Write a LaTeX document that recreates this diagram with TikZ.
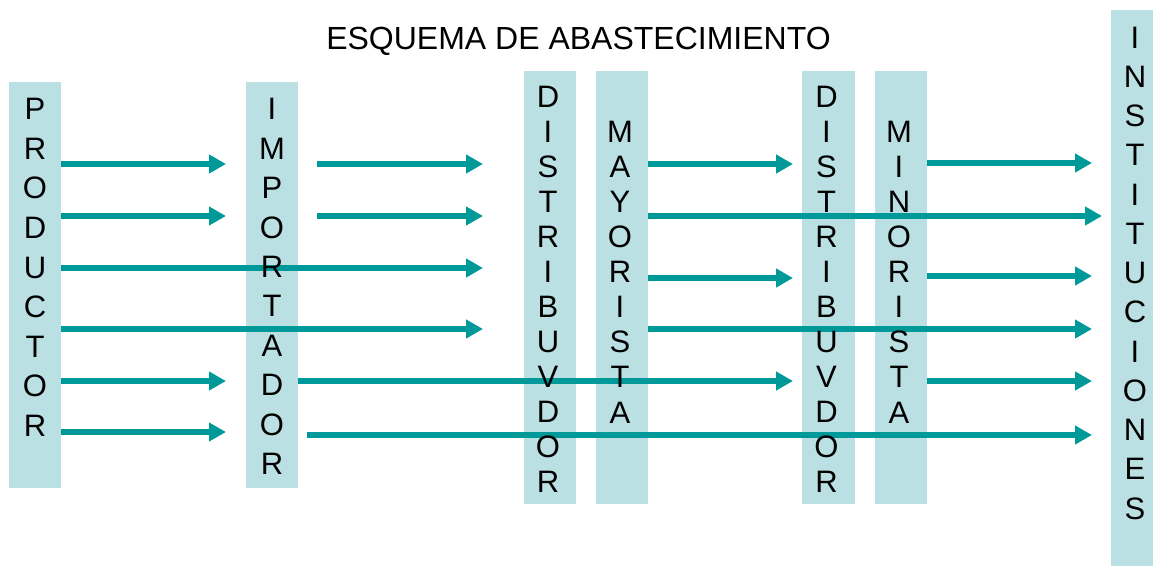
\documentclass[tikz,border=0pt]{standalone}
\usepackage{fontspec}
\setmainfont{Liberation Sans}
\usetikzlibrary{arrows.meta, positioning}

\definecolor{barfill}{RGB}{187,224,227}
\definecolor{flowteal}{RGB}{0,153,153}

\begin{document}
\begin{tikzpicture}[
	x=1pt, y=-1pt,
	bar/.style={
		rectangle,
		fill=barfill,
		inner sep=0pt,
		outer sep=0pt,
		minimum width=52pt,
		minimum height=#1
	},
	letters/.style={
		align=center,
		inner sep=0pt,
		font=\fontsize{31pt}{#1}\selectfont
	},
	flow/.style={-{Triangle[length=17pt, width=18pt]}, line width=6.7pt, flowteal}
]
	\useasboundingbox (0,0) rectangle (1156,566);

	\node[font=\fontsize{32pt}{38pt}\selectfont, anchor=base] (title) at (578.5,49) {ESQUEMA DE ABASTECIMIENTO};

	% columns
	\node[bar=406pt] (prod) at (35,285) {};
	\node[bar=406pt, right=185pt of prod] (imp) {};
	\node[bar=433pt, right=226pt of imp, yshift=-2.5pt] (dist1) {};
	\node[bar=433pt, right=20pt of dist1] (mayor) {};
	\node[bar=433pt, minimum width=53pt, right=154pt of mayor] (dist2) {};
	\node[bar=433pt, right=20pt of dist2] (minor) {};
	\node[bar=556pt, minimum width=42pt, right=184pt of minor] (inst) {};

	% productor
	\draw[flow, shorten >=20pt] (prod.east |- 0,164) -- (imp.west |- 0,164);
	\draw[flow, shorten >=20pt] (prod.east |- 0,216) -- (imp.west |- 0,216);
	\draw[flow, shorten >=41pt] (prod.east |- 0,268) -- (dist1.west |- 0,268);
	\draw[flow, shorten >=41pt] (prod.east |- 0,329) -- (dist1.west |- 0,329);
	\draw[flow, shorten >=20pt] (prod.east |- 0,381) -- (imp.west |- 0,381);
	\draw[flow, shorten >=20pt] (prod.east |- 0,432) -- (imp.west |- 0,432);

	% importador
	\draw[flow, shorten <=19pt, shorten >=41pt] (imp.east |- 0,164) -- (dist1.west |- 0,164);
	\draw[flow, shorten <=19pt, shorten >=41pt] (imp.east |- 0,216) -- (dist1.west |- 0,216);
	\draw[flow, shorten >=9pt] (imp.east |- 0,381) -- (dist2.west |- 0,381);
	\draw[flow, shorten <=9pt, shorten >=19pt] (imp.east |- 0,435) -- (inst.west |- 0,435);

	% mayorista
	\draw[flow, shorten >=9pt] (mayor.east |- 0,164) -- (dist2.west |- 0,164);
	\draw[flow, shorten >=9pt] (mayor.east |- 0,216) -- (inst.west |- 0,216);
	\draw[flow, shorten >=9pt] (mayor.east |- 0,278) -- (dist2.west |- 0,278);
	\draw[flow, shorten >=19pt] (mayor.east |- 0,329) -- (inst.west |- 0,329);

	% minorista
	\draw[flow, shorten >=19pt] (minor.east |- 0,163) -- (inst.west |- 0,163);
	\draw[flow, shorten >=19pt] (minor.east |- 0,276) -- (inst.west |- 0,276);
	\draw[flow, shorten >=19pt] (minor.east |- 0,381) -- (inst.west |- 0,381);

	% letters
	\node[letters=39.6pt] (prodtxt) at ([yshift=17.5pt]prod.center) {P\\R\\O\\D\\U\\C\\T\\O\\R};
	\node[letters=39.4pt] (imptxt) at ([yshift=-1.5pt]imp.center) {I\\M\\P\\O\\R\\T\\A\\D\\O\\R};
	\node[letters=35pt] (dist1txt) at ([xshift=-2pt, yshift=-1.7pt]dist1.center) {D\\I\\S\\T\\R\\I\\B\\U\\V\\D\\O\\R};
	\node[letters=35.1pt] (mayortxt) at ([xshift=-2pt, yshift=15.5pt]mayor.center) {M\\A\\Y\\O\\R\\I\\S\\T\\A};
	\node[letters=35pt] (dist2txt) at ([xshift=-2pt, yshift=-1.7pt]dist2.center) {D\\I\\S\\T\\R\\I\\B\\U\\V\\D\\O\\R};
	\node[letters=35.1pt] (minortxt) at ([xshift=-2pt, yshift=15.5pt]minor.center) {M\\I\\N\\O\\R\\I\\S\\T\\A};
	\node[letters=39.25pt] (insttxt) at ([xshift=3pt, yshift=14.5pt]inst.center) {I\\N\\S\\T\\I\\T\\U\\C\\I\\O\\N\\E\\S};

\end{tikzpicture}
\end{document}
